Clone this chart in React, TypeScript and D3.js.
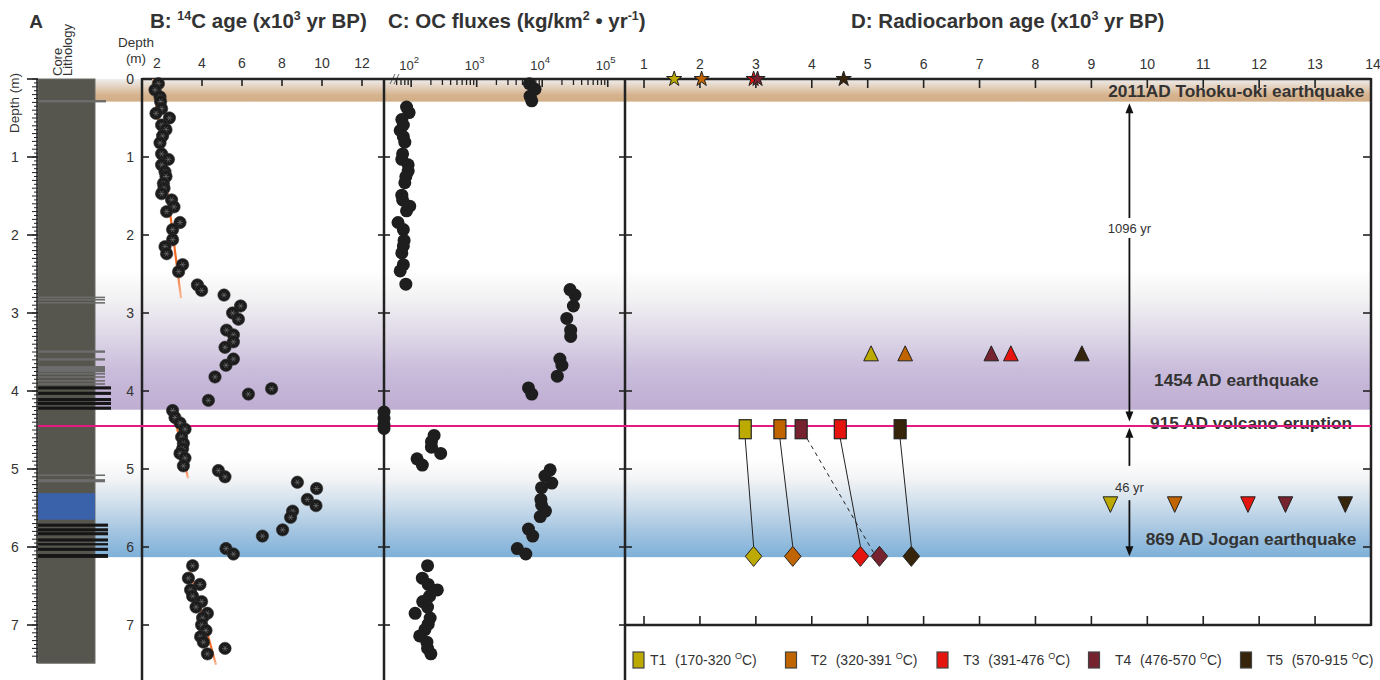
import React from 'react';
import * as d3 from 'd3';

const W = 1380;
const H = 680;
const FONT = '"Liberation Sans", Arial, Helvetica, sans-serif';
const INK = '#222';
const TXT = '#333';

// ---------- axes ----------
const depthTicks = [0, 1, 2, 3, 4, 5, 6, 7];
const ageTicksB = [2, 4, 6, 8, 10, 12];
const fluxExp = [2, 3, 4, 5];
const ageTicksD = [1, 2, 3, 4, 5, 6, 7, 8, 9, 10, 11, 12, 13, 14];

// ---------- panel A lithology (depth top, depth bottom) ----------
const grayBedTop = [0.27, 2.79, 2.82, 2.86, 3.48, 3.58, 3.68, 3.77, 3.81, 3.86, 3.9, 5.07, 5.13];
const grayBedBot = [0.3, 2.81, 2.84, 2.88, 3.51, 3.61, 3.76, 3.79, 3.83, 3.88, 3.92, 5.09, 5.17];
const blackBedTop = [3.94, 4.01, 4.09, 4.14, 4.2, 5.7, 5.76, 5.81, 5.89, 5.95, 6.01, 6.09];
const blackBedBot = [3.98, 4.05, 4.13, 4.18, 4.24, 5.74, 5.8, 5.85, 5.93, 5.98, 6.05, 6.14];
const tephraTop = 5.31;
const tephraBot = 5.65;
const coreBottom = 7.49;

// ---------- event bands (depth) ----------
const tanBand = [0, 0.29];
const purpleBand = [2.45, 4.24];
const blueBand = [4.87, 6.13];
const volcanoDepth = 4.45;

// ---------- panel B: 14C age ----------
const bDepth = [0.06, 0.14, 0.23, 0.29, 0.38, 0.44, 0.5, 0.59, 0.65, 0.73, 0.82, 0.96, 1.03, 1.1, 1.19, 1.25, 1.34, 1.4, 1.47, 1.55, 1.64, 1.7, 1.84, 1.93, 2.06, 2.15, 2.24, 2.38, 2.47, 2.64, 2.71, 2.77, 2.91, 3.0, 3.08, 3.22, 3.28, 3.37, 3.44, 3.59, 3.67, 3.82, 4.12, 4.04, 3.97, 4.25, 4.34, 4.41, 4.49, 4.59, 4.67, 4.74, 4.8, 4.86, 4.96, 5.02, 5.1, 5.17, 5.25, 5.39, 5.47, 5.54, 5.62, 5.78, 5.86, 6.02, 6.09, 6.24, 6.4, 6.48, 6.55, 6.63, 6.7, 6.77, 6.85, 6.91, 7.0, 7.07, 7.15, 7.22, 7.37, 7.3];
const bAge = [1.82, 1.65, 1.9, 1.93, 1.98, 1.7, 2.37, 1.98, 2.2, 2.03, 1.9, 1.98, 2.32, 1.98, 2.15, 2.2, 2.07, 2.1, 1.98, 2.48, 2.6, 2.23, 2.9, 2.53, 2.53, 2.15, 2.23, 3.03, 2.83, 3.77, 3.98, 5.1, 5.93, 5.53, 5.82, 5.23, 5.57, 5.57, 5.15, 5.57, 5.2, 4.65, 4.32, 6.32, 7.48, 2.53, 2.65, 2.9, 3.15, 2.98, 3.07, 3.03, 2.9, 3.15, 3.07, 4.82, 5.15, 8.77, 9.73, 9.27, 9.7, 8.53, 8.43, 8.03, 7.02, 5.2, 5.57, 3.53, 3.32, 3.9, 3.43, 3.53, 3.98, 3.7, 4.27, 4.03, 3.98, 4.2, 3.93, 4.07, 4.27, 5.15];
// age-depth trend segments
const trendDepthTop = [0, 4.17, 6.3];
const trendAgeTop = [1.55, 2.5, 3.4];
const trendDepthBot = [2.81, 5.12, 7.51];
const trendAgeBot = [2.95, 3.3, 4.7];

// ---------- panel C: OC fluxes (kg/km2/yr) ----------
const cDepth = [0.06, 0.13, 0.22, 0.28, 0.36, 0.43, 0.52, 0.59, 0.66, 0.74, 0.81, 0.96, 1.03, 1.1, 1.18, 1.25, 1.33, 1.49, 1.55, 1.63, 1.69, 1.84, 1.93, 2.07, 2.14, 2.23, 2.38, 2.46, 2.63, 2.7, 2.77, 2.91, 3.07, 3.22, 3.3, 3.59, 3.67, 3.81, 3.96, 4.04, 4.27, 4.35, 4.43, 4.48, 4.57, 4.65, 4.72, 4.8, 4.87, 4.95, 5.01, 5.09, 5.18, 5.24, 5.39, 5.46, 5.54, 5.61, 5.77, 5.86, 6.02, 6.09, 6.24, 6.4, 6.48, 6.55, 6.63, 6.7, 6.77, 6.85, 6.91, 6.99, 7.06, 7.14, 7.22, 7.3, 7.37];
const cFlux = [6370, 7760, 6530, 6920, 85, 93, 72, 76, 68, 76, 80, 74, 72, 90, 90, 83, 80, 72, 74, 95, 85, 63, 76, 78, 76, 72, 76, 68, 83, 26600, 31600, 29900, 23700, 27200, 27200, 18600, 20000, 17000, 6170, 6920, 38.5, 38.5, 38.5, 38.5, 224, 204, 204, 282, 123, 148, 13200, 11000, 14000, 9770, 9550, 9770, 11200, 9330, 6170, 7160, 4170, 5620, 178, 148, 182, 251, 191, 150, 178, 115, 195, 182, 162, 135, 174, 178, 200];

// ---------- panel D: radiocarbon ages of ramped pyrolysis fractions ----------
const series = ['T1', 'T2', 'T3', 'T4', 'T5'];
const seriesRange = ['170-320', '320-391', '391-476', '476-570', '570-915'];
const seriesColor = ['#bcaa00', '#c06400', '#e6140e', '#76222f', '#36240b'];
const starDepth = 0.0;
const starAge = [1.54, 2.03, 2.96, 3.03, 4.57];
const triUpDepth = 3.53;
const triUpAge = [5.06, 5.67, 7.56, 7.21, 8.83];
const squareDepth = 4.49;
const squareAge = [2.81, 3.43, 4.51, 3.81, 5.58];
const triDownDepth = 5.45;
const triDownAge = [9.34, 10.49, 11.8, 12.47, 13.54];
const diamondDepth = 6.12;
const diamondAge = [2.96, 3.66, 4.87, 5.21, 5.78];

const eventLabels = ['2011AD Tohoku-oki earthquake', '1454 AD earthquake', '915 AD volcano eruption', '869 AD Jogan earthquake'];
const eventLabelDepth = [0.23, 3.94, 4.49, 5.98];
const eventLabelAge = [9.3, 10.12, 10.05, 9.97];

const intervalAge = 9.68;
const intervalLabels = ['1096 yr', '46 yr'];

export default function App() {
  const yD = d3.scaleLinear().domain([0, 7]).range([79, 625]);
  const xB = d3.scaleLinear().domain([1, 13.1]).range([142, 384]);
  const xC = d3.scaleLog().domain([38.5, 190000]).range([384, 626]);
  const xD = d3.scaleLinear().domain([0.66, 14]).range([625, 1371]);

  const colL = 38;
  const colR = 95;
  const bandL = 95;
  const bandR = 1371;
  const top = yD(0);
  const botD = yD(7);

  const star = d3.symbol().type(d3.symbolStar).size(72)() as string;

  const aMinor = d3.range(0, 149).map((i) => i * 0.05).filter((d) => d <= 7.45);

  const cMinor: number[] = [];
  for (let k = 1; k <= 5; k++) {
    for (let m = 2; m <= 9; m++) {
      const v = m * Math.pow(10, k);
      if (v >= 60 && v <= 190000) cMinor.push(v);
    }
  }

  const trendGrad = (i: number) => `trend${i}`;
  const TS = 20.5; // title font size
  const SS = 12.5; // superscript size in titles

  return (
    <svg width={W} height={H} style={{ position: 'absolute', left: 0, top: 0, background: '#fff' }} fontFamily={FONT}>
      <defs>
        <linearGradient id="tanG" x1="0" y1="0" x2="0" y2="1">
          <stop offset="0" stopColor="#eeeeee" />
          <stop offset="0.4" stopColor="#e2cdb8" />
          <stop offset="0.7" stopColor="#d6b48f" />
          <stop offset="1" stopColor="#d2ad86" />
        </linearGradient>
        <linearGradient id="purG" x1="0" y1="0" x2="0" y2="1">
          <stop offset="0" stopColor="#ffffff" />
          <stop offset="0.22" stopColor="#f1f0f2" />
          <stop offset="0.45" stopColor="#dfd9e8" />
          <stop offset="0.72" stopColor="#c9bcdb" />
          <stop offset="1" stopColor="#bfadd2" />
        </linearGradient>
        <linearGradient id="bluG" x1="0" y1="0" x2="0" y2="1">
          <stop offset="0" stopColor="#ffffff" />
          <stop offset="0.2" stopColor="#f3f4f5" />
          <stop offset="0.45" stopColor="#d0dfec" />
          <stop offset="0.72" stopColor="#a6c6e1" />
          <stop offset="1" stopColor="#7eb0d8" />
        </linearGradient>
        {trendDepthTop.map((d, i) => (
          <linearGradient key={i} id={trendGrad(i)} gradientUnits="userSpaceOnUse"
            x1={xB(trendAgeTop[i])} y1={yD(d)} x2={xB(trendAgeBot[i])} y2={yD(trendDepthBot[i])}>
            <stop offset="0" stopColor="#f9b898" />
            <stop offset="0.15" stopColor="#f26a24" />
            <stop offset="0.85" stopColor="#f26a24" />
            <stop offset="1" stopColor="#f9b898" />
          </linearGradient>
        ))}
      </defs>

      {/* bands */}
      <rect x={bandL} y={yD(tanBand[0])} width={bandR - bandL} height={yD(tanBand[1]) - yD(tanBand[0])} fill="url(#tanG)" />
      <rect x={bandL} y={yD(purpleBand[0])} width={bandR - bandL} height={yD(purpleBand[1]) - yD(purpleBand[0])} fill="url(#purG)" />
      <rect x={bandL} y={yD(blueBand[0])} width={bandR - bandL} height={yD(blueBand[1]) - yD(blueBand[0])} fill="url(#bluG)" />

      {/* ---------------- Panel A ---------------- */}
      <text x={36} y={28} fontSize={19} fontWeight="bold" fill={TXT} textAnchor="middle">A</text>
      <text transform="translate(62,76) rotate(-90)" fontSize={13} fill={TXT}>Core</text>
      <text transform="translate(72,76) rotate(-90)" fontSize={13} fill={TXT}>Lithology</text>
      <text transform="translate(19,103) rotate(-90)" fontSize={13.5} fill={TXT} textAnchor="middle">Depth (m)</text>
      <rect x={colL} y={top} width={colR - colL} height={yD(coreBottom) - top} fill="#57564e" stroke="#6d6d68" strokeWidth={1} />
      {grayBedTop.map((d, i) => (
        <rect key={'g' + i} x={colL} y={yD(d)} width={(i === 0 ? 106 : 105) - colL} height={Math.max(1.5, yD(grayBedBot[i]) - yD(d))} fill="#6c6c6c" />
      ))}
      {blackBedTop.map((d, i) => (
        <rect key={'k' + i} x={colL} y={yD(d)} width={(d > 5 ? 108 : 111) - colL} height={Math.max(2, yD(blackBedBot[i]) - yD(d))} fill="#161616" />
      ))}
      <rect x={colL} y={yD(tephraTop)} width={colR - colL} height={yD(tephraBot) - yD(tephraTop)} fill="#3a62aa" />
      <line x1={37} x2={37} y1={top} y2={yD(coreBottom)} stroke={INK} strokeWidth={1.5} />
      {aMinor.map((d, i) => (
        <line key={'am' + i} x1={i % 2 === 0 ? 32 : 34} x2={38} y1={yD(d)} y2={yD(d)} stroke={INK} strokeWidth={1} />
      ))}
      {depthTicks.map((d) => (
        <g key={'aM' + d}>
          <line x1={27} x2={38} y1={yD(d)} y2={yD(d)} stroke={INK} strokeWidth={1.6} />
          {d > 0 && <text x={15} y={yD(d)} dy="0.36em" fontSize={14} fill={TXT} textAnchor="middle">{d}</text>}
        </g>
      ))}

      {/* ---------------- Titles ---------------- */}
      <text x={150} y={28} fontSize={TS} fontWeight="bold" fill={TXT}>
        B:  <tspan fontSize={SS} dy={-8}>14</tspan><tspan dy={8}>C age (x10</tspan><tspan fontSize={SS} dy={-8}>3</tspan><tspan dy={8}> yr BP)</tspan>
      </text>
      <text x={388} y={28} fontSize={TS} fontWeight="bold" fill={TXT}>
        C: OC fluxes (kg/km<tspan fontSize={SS} dy={-8}>2</tspan><tspan dy={8}> • yr</tspan><tspan fontSize={SS} dy={-8}>-1</tspan><tspan dy={8}>)</tspan>
      </text>
      <text x={851} y={28} fontSize={TS} fontWeight="bold" fill={TXT}>
        D: Radiocarbon age (x10<tspan fontSize={SS} dy={-8}>3</tspan><tspan dy={8}> yr BP)</tspan>
      </text>

      {/* ---------------- Panel B axes ---------------- */}
      <text x={136} y={47} fontSize={13.5} fill={TXT} textAnchor="middle">Depth</text>
      <text x={136} y={63} fontSize={13.5} fill={TXT} textAnchor="middle">(m)</text>
      {ageTicksB.map((a, i) => (
        <g key={'bt' + a}>
          {i > 0 && <line x1={xB(a)} x2={xB(a)} y1={top} y2={top + 7} stroke={INK} strokeWidth={1.6} />}
          <text x={xB(a) - (i === 0 ? 5 : 0)} y={68} fontSize={14} fill={TXT} textAnchor="middle">{a}</text>
        </g>
      ))}
      {depthTicks.map((d) => (
        <g key={'bd' + d}>
          <line x1={xB.range()[0]} x2={xB.range()[0] + 7} y1={yD(d)} y2={yD(d)} stroke={INK} strokeWidth={1.6} />
          <line x1={378} x2={390} y1={yD(d)} y2={yD(d)} stroke={INK} strokeWidth={1.6} />
          <line x1={619} x2={632} y1={yD(d)} y2={yD(d)} stroke={INK} strokeWidth={1.6} />
          <line x1={1363} x2={1371} y1={yD(d)} y2={yD(d)} stroke={INK} strokeWidth={1.6} />
          <text x={134} y={yD(d)} dy="0.36em" fontSize={14} fill={TXT} textAnchor="end">{d}</text>
        </g>
      ))}

      {/* ---------------- Panel C axis ticks ---------------- */}
      {fluxExp.map((e) => (
        <g key={'ce' + e}>
          <line x1={xC(Math.pow(10, e))} x2={xC(Math.pow(10, e))} y1={top} y2={top + 8} stroke={INK} strokeWidth={1.6} />
          <text x={xC(Math.pow(10, e)) - 2} y={70} fontSize={13} fill={TXT} textAnchor="middle">10<tspan fontSize={9.5} dy={-7}>{e}</tspan></text>
        </g>
      ))}
      {cMinor.map((v, i) => (
        <line key={'cm' + i} x1={xC(v)} x2={xC(v)} y1={top} y2={top + 6} stroke={INK} strokeWidth={1.3} />
      ))}
      <line x1={390} y1={84} x2={395} y2={74} stroke="#555" strokeWidth={0.9} />
      <line x1={394} y1={84} x2={399} y2={74} stroke="#555" strokeWidth={0.9} />

      {/* ---------------- Panel D axis ticks ---------------- */}
      {ageTicksD.map((a) => (
        <g key={'dt' + a}>
          {a < 14 && <line x1={xD(a)} x2={xD(a)} y1={top} y2={top + 9} stroke={INK} strokeWidth={1.6} />}
          {a < 14 && <line x1={xD(a)} x2={xD(a)} y1={botD - 9} y2={botD} stroke={INK} strokeWidth={1.6} />}
          <text x={xD(a) + (a === 14 ? 2 : 0)} y={69} fontSize={14} fill={TXT} textAnchor="middle">{a}</text>
        </g>
      ))}

      {/* axis frames */}
      <line x1={142} x2={1371} y1={top} y2={top} stroke={INK} strokeWidth={2.5} />
      <line x1={142} x2={142} y1={top - 1} y2={H} stroke={INK} strokeWidth={2.5} />
      <line x1={384} x2={384} y1={top - 1} y2={H} stroke={INK} strokeWidth={2.5} />
      <line x1={625} x2={625} y1={top - 1} y2={H} stroke={INK} strokeWidth={2.5} />
      <line x1={1371} x2={1371} y1={top - 1} y2={botD + 1} stroke={INK} strokeWidth={2.5} />
      <line x1={625} x2={1371} y1={botD} y2={botD} stroke={INK} strokeWidth={2.5} />

      {/* ---------------- event labels ---------------- */}
      {eventLabels.map((t, i) => (
        <text key={t} x={xD(eventLabelAge[i])} y={yD(eventLabelDepth[i])} fontSize={17.3} fontWeight="bold" fill={TXT}>{t}</text>
      ))}

      {/* interval arrows */}
      <g stroke="#111" strokeWidth={1.8} fill="#111">
        <line x1={xD(intervalAge)} x2={xD(intervalAge)} y1={yD(0.38)} y2={yD(4.3)} />
        <path d={`M${xD(intervalAge)},${yD(0.31)} l-4,10 l8,0 z`} stroke="none" />
        <path d={`M${xD(intervalAge)},${yD(4.39)} l-4,-10 l8,0 z`} stroke="none" />
        <line x1={xD(intervalAge)} x2={xD(intervalAge)} y1={yD(4.55)} y2={yD(4.96)} />
        <path d={`M${xD(intervalAge)},${yD(4.47)} l-4,10 l8,0 z`} stroke="none" />
        <line x1={xD(intervalAge)} x2={xD(intervalAge)} y1={yD(5.4)} y2={yD(6.02)} />
        <path d={`M${xD(intervalAge)},${yD(6.12)} l-4,-10 l8,0 z`} stroke="none" />
      </g>
      <rect x={xD(intervalAge) - 30} y={yD(1.91) - 10} width={60} height={20} fill="#fff" />
      <text x={xD(intervalAge)} y={yD(1.91)} dy="0.36em" fontSize={13} fill={TXT} textAnchor="middle">{intervalLabels[0]}</text>
      <text x={xD(intervalAge)} y={yD(5.23)} dy="0.36em" fontSize={13} fill={TXT} textAnchor="middle">{intervalLabels[1]}</text>

      {/* volcano line */}
      <line x1={colL} x2={bandR} y1={yD(volcanoDepth)} y2={yD(volcanoDepth)} stroke="#e5197f" strokeWidth={2} />

      {/* ---------------- Panel B data ---------------- */}
      {trendDepthTop.map((d, i) => (
        <line key={'tr' + i} x1={xB(trendAgeTop[i])} y1={yD(d)} x2={xB(trendAgeBot[i])} y2={yD(trendDepthBot[i])}
          stroke={`url(#${trendGrad(i)})`} strokeWidth={2.2} />
      ))}
      {bDepth.map((d, i) => {
        const cx = xB(bAge[i]);
        const cy = yD(d);
        return (
          <g key={'b' + i} transform={`translate(${cx},${cy})`}>
            <circle r={6.2} fill="#1c1c1c" stroke="#333" strokeWidth={0.6} />
            <g stroke="#7a7a7a" strokeWidth={0.6}>
              <line x1={-3} x2={3} y1={0} y2={0} />
              <line x1={-1.5} x2={1.5} y1={-2.6} y2={2.6} />
              <line x1={1.5} x2={-1.5} y1={-2.6} y2={2.6} />
            </g>
          </g>
        );
      })}

      {/* ---------------- Panel C data ---------------- */}
      {cDepth.map((d, i) => (
        <circle key={'c' + i} cx={xC(cFlux[i])} cy={yD(d)} r={6.5} fill="#1e1e1e" />
      ))}

      {/* ---------------- Panel D data ---------------- */}
      {series.map((s, i) => (
        <line key={'ln' + s} x1={xD(squareAge[i]) + (i === 3 ? 6 : 0)} y1={yD(squareDepth) + 9.5}
          x2={xD(diamondAge[i]) - (i === 3 ? 6 : 0)} y2={yD(diamondDepth) - (i === 3 ? 4 : 10)}
          stroke="#222" strokeWidth={1} strokeDasharray={i === 3 ? '4,4' : undefined} />
      ))}
      {series.map((s, i) => (
        <path key={'st' + s} d={star} transform={`translate(${xD(starAge[i])},${yD(starDepth)})`} fill={seriesColor[i]} stroke="#222" strokeWidth={1} />
      ))}
      {series.map((s, i) => {
        const x = xD(triUpAge[i]);
        const y = yD(triUpDepth);
        return <path key={'tu' + s} d={`M${x},${y - 8.5} L${x + 7.3},${y + 6.5} L${x - 7.3},${y + 6.5} Z`} fill={seriesColor[i]} stroke="#222" strokeWidth={1} />;
      })}
      {series.map((s, i) => {
        const x = xD(triDownAge[i]);
        const y = yD(triDownDepth);
        return <path key={'td' + s} d={`M${x},${y + 8.3} L${x + 7.3},${y - 7.3} L${x - 7.3},${y - 7.3} Z`} fill={seriesColor[i]} stroke="#222" strokeWidth={1} />;
      })}
      {series.map((s, i) => (
        <rect key={'sq' + s} x={xD(squareAge[i]) - 6} y={yD(squareDepth) - 9.5} width={12} height={19} fill={seriesColor[i]} stroke="#222" strokeWidth={1.2} />
      ))}
      {series.map((s, i) => {
        const x = xD(diamondAge[i]);
        const y = yD(diamondDepth);
        return <path key={'dm' + s} d={`M${x},${y - 10} L${x + 8.3},${y} L${x},${y + 10} L${x - 8.3},${y} Z`} fill={seriesColor[i]} stroke="#222" strokeWidth={1} />;
      })}

      {/* ---------------- legend ---------------- */}
      {series.map((s, i) => {
        const sx = [638.5, 791, 942.5, 1094, 1246][i];
        const tx = [650, 810.7, 963.3, 1115, 1266.7][i];
        return (
          <g key={'lg' + s}>
            <rect x={sx - 5.5} y={652} width={11} height={16} fill={seriesColor[i]} stroke="#444" strokeWidth={1.2} />
            <text x={tx} y={665} fontSize={14} fill={TXT}>{s}</text>
            <text x={tx + 25} y={665} fontSize={14} fill={TXT}>({seriesRange[i]} <tspan fontSize={9} dy={-6}>O</tspan><tspan dy={6}>C)</tspan></text>
          </g>
        );
      })}
    </svg>
  );
}
